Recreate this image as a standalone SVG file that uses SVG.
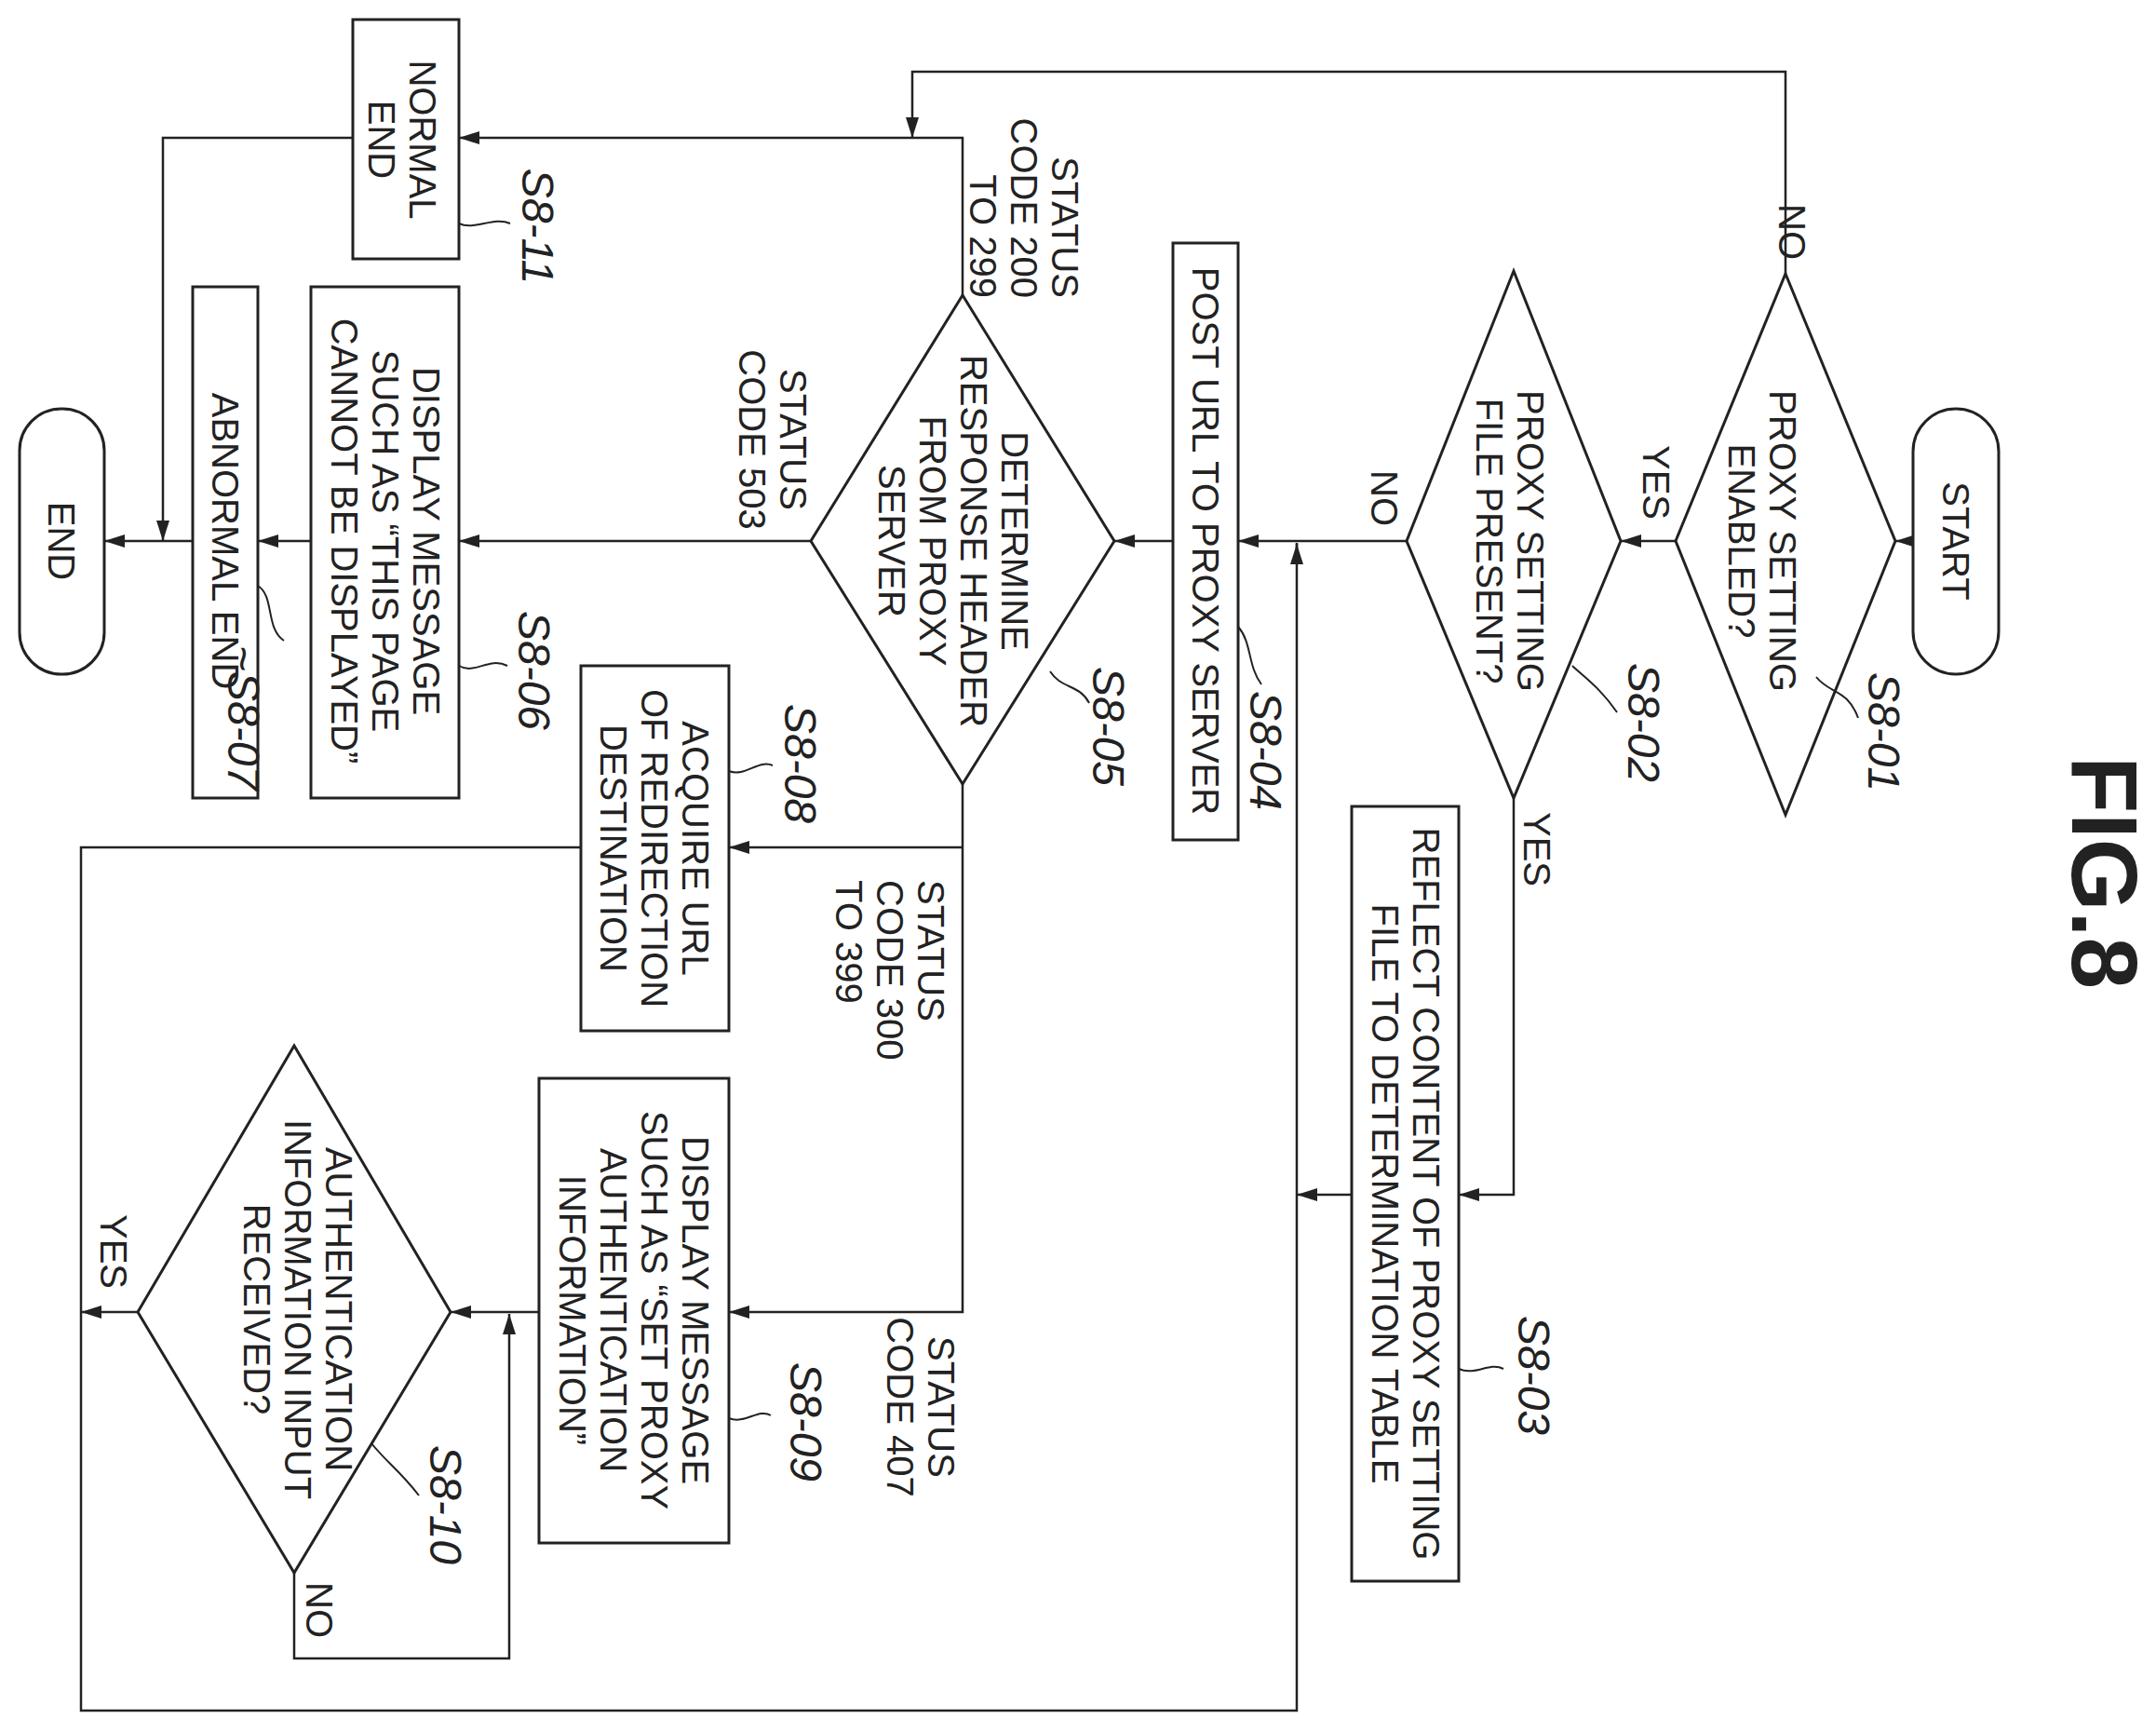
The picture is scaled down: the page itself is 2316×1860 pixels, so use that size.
<svg xmlns="http://www.w3.org/2000/svg" width="2316" height="1860" viewBox="0 0 2316 1860">
<style>
.s{fill:none;stroke:#222;stroke-width:2.5}
.n{fill:#fff;stroke:#222;stroke-width:3}
.t{font-family:"Liberation Sans",Arial,sans-serif;font-size:40px;fill:#222;text-anchor:middle}
.l{font-family:"Liberation Sans",Arial,sans-serif;font-size:48px;font-style:italic;fill:#222;text-anchor:middle}
.c{fill:none;stroke:#222;stroke-width:2}
</style>
<defs>
<marker id="a" markerUnits="userSpaceOnUse" markerWidth="24" markerHeight="16" refX="22" refY="8" orient="auto">
<path d="M0,1 L22,8 L0,15 Z" fill="#222"/>
</marker>
</defs>
<rect width="2316" height="1860" fill="#fff"/>
<text x="0" y="0" transform="translate(2262,937) rotate(90)" style="font-family:'Liberation Sans',Arial,sans-serif;font-size:100px;font-weight:bold;text-anchor:middle;fill:#222" dy="36">FIG.8</text>
<g id="connectors">
<path class="s" d="M2055 581 L2036 581" marker-end="url(#a)"/>
<path class="s" d="M1800 581 L1741 581" marker-end="url(#a)"/>
<path class="s" d="M1511 581 L1330 581" marker-end="url(#a)"/>
<path class="s" d="M1393 600 L1393 583"/>
<path class="s" d="M1260 581 L1197 581" marker-end="url(#a)"/>
<path class="s" d="M871 581 L493 581" marker-end="url(#a)"/>
<path class="s" d="M334 581 L277 581" marker-end="url(#a)"/>
<path class="s" d="M207 581 L112 581" marker-end="url(#a)"/>
<path class="s" d="M1918 294 L1918 77 L980 77 L980 148" marker-end="url(#a)"/>
<path class="s" d="M1034 317 L1034 148 L493 148" marker-end="url(#a)"/>
<path class="s" d="M379 148 L175 148 L175 581" marker-end="url(#a)"/>
<path class="s" d="M1626 857 L1626 1283 L1567 1283" marker-end="url(#a)"/>
<path class="s" d="M1452 1283 L1393 1283" marker-end="url(#a)"/>
<path class="s" d="M1034 842 L1034 1409 L783 1409" marker-end="url(#a)"/>
<path class="s" d="M1034 910 L783 910" marker-end="url(#a)"/>
<path class="s" d="M624 910 L87 910 L87 1837 L1393 1837 L1393 584" marker-end="url(#a)"/>
<path class="s" d="M579 1409 L484 1409" marker-end="url(#a)"/>
<path class="s" d="M148 1409 L87 1409" marker-end="url(#a)"/>
<path class="s" d="M316 1689 L316 1781 L547 1781 L547 1411" marker-end="url(#a)"/>
<text class="t" transform="translate(1925,249) rotate(90)" y="14">NO</text>
<text class="t" transform="translate(1779,518) rotate(90)" y="14">YES</text>
<text class="t" transform="translate(1487,535) rotate(90)" y="14">NO</text>
<text class="t" transform="translate(1651,912) rotate(90)" y="14">YES</text>
<text class="t" transform="translate(122,1344) rotate(90)" y="14">YES</text>
<text class="t" transform="translate(343,1729) rotate(90)" y="14">NO</text>
<text class="t" transform="translate(1100,320) rotate(90)" style="text-anchor:end"><tspan x="0" y="-30">STATUS</tspan><tspan x="0" y="14">CODE 200</tspan><tspan x="0" y="58">TO 299</tspan></text>
<text class="t" transform="translate(830,472) rotate(90)"><tspan x="0" y="-8">STATUS</tspan><tspan x="0" y="36">CODE 503</tspan></text>
<text class="t" transform="translate(956,945) rotate(90)" style="text-anchor:start"><tspan x="0" y="-30">STATUS</tspan><tspan x="0" y="14">CODE 300</tspan><tspan x="0" y="58">TO 399</tspan></text>
<text class="t" transform="translate(989,1511) rotate(90)"><tspan x="0" y="-8">STATUS</tspan><tspan x="0" y="36">CODE 407</tspan></text>
</g>
<g id="S8-START"><rect class="n" x="2055" y="439" width="92" height="285" rx="46"/><text class="t" transform="translate(2101,581) rotate(90)" y="14">START</text></g>
<g id="S8-01"><polygon class="n" points="1918,294 2036,581 1918,875 1800,581"/><text class="t" transform="translate(1893,581) rotate(90)"><tspan x="0" y="-8">PROXY SETTING</tspan><tspan x="0" y="36">ENABLED?</tspan></text>
<path class="c" d="M1951 727 C1965 745,1985 740,1996 771"/><text class="l" transform="translate(2024,786) rotate(90)" y="17">S8-01</text></g>
<g id="S8-02"><polygon class="n" points="1626,291 1741,581 1626,857 1511,581"/><text class="t" transform="translate(1622,581) rotate(90)"><tspan x="0" y="-8">PROXY SETTING</tspan><tspan x="0" y="36">FILE PRESENT?</tspan></text>
<path class="c" d="M1689 715 C1705 730,1720 740,1737 765"/><text class="l" transform="translate(1766,776) rotate(90)" y="17">S8-02</text></g>
<g id="S8-03"><rect class="n" x="1452" y="866" width="115" height="832"/><text class="t" transform="translate(1510,1282) rotate(90)"><tspan x="0" y="-8">REFLECT CONTENT OF PROXY SETTING</tspan><tspan x="0" y="36">FILE TO DETERMINATION TABLE</tspan></text>
<path class="c" d="M1567 1470 C1585 1478,1600 1462,1615 1470"/><text class="l" transform="translate(1648,1477) rotate(90)" y="17">S8-03</text></g>
<g id="S8-04"><rect class="n" x="1260" y="261" width="70" height="641"/><text class="t" transform="translate(1295,581) rotate(90)" y="14">POST URL TO PROXY SERVER</text>
<path class="c" d="M1330 673 C1345 690,1340 715,1355 735"/><text class="l" transform="translate(1360,806) rotate(90)" y="17">S8-04</text></g>
<g id="S8-05"><polygon class="n" points="1034,317 1197,581 1034,842 871,581"/><text class="t" transform="translate(1024,581) rotate(90)"><tspan x="0" y="-52">DETERMINE</tspan><tspan x="0" y="-8">RESPONSE HEADER</tspan><tspan x="0" y="36">FROM PROXY</tspan><tspan x="0" y="80">SERVER</tspan></text>
<path class="c" d="M1128 721 C1140 740,1160 735,1170 755"/><text class="l" transform="translate(1191,780) rotate(90)" y="17">S8-05</text></g>
<g id="S8-06"><rect class="n" x="334" y="308" width="159" height="549"/><text class="t" transform="translate(414,581) rotate(90)"><tspan x="0" y="-30">DISPLAY MESSAGE</tspan><tspan x="0" y="14">SUCH AS “THIS PAGE</tspan><tspan x="0" y="58">CANNOT BE DISPLAYED”</tspan></text>
<path class="c" d="M493 715 C510 725,525 705,545 715"/><text class="l" transform="translate(574,720) rotate(90)" y="17">S8-06</text></g>
<g id="S8-07"><rect class="n" x="207" y="308" width="70" height="549"/><text class="t" transform="translate(242,581) rotate(90)" y="14">ABNORMAL END</text>
<path class="c" d="M277 629 C295 640,285 675,305 688"/><text class="l" transform="translate(262,771) rotate(90)" y="17">~S8-07</text></g>
<g id="S8-08"><rect class="n" x="624" y="715" width="159" height="392"/><text class="t" transform="translate(703,911) rotate(90)"><tspan x="0" y="-30">ACQUIRE URL</tspan><tspan x="0" y="14">OF REDIRECTION</tspan><tspan x="0" y="58">DESTINATION</tspan></text>
<path class="c" d="M783 828 C800 835,815 815,830 822"/><text class="l" transform="translate(860,820) rotate(90)" y="17">S8-08</text></g>
<g id="S8-09"><rect class="n" x="579" y="1158" width="204" height="499"/><text class="t" transform="translate(681,1407) rotate(90)"><tspan x="0" y="-52">DISPLAY MESSAGE</tspan><tspan x="0" y="-8">SUCH AS “SET PROXY</tspan><tspan x="0" y="36">AUTHENTICATION</tspan><tspan x="0" y="80">INFORMATION”</tspan></text>
<path class="c" d="M783 1523 C800 1530,815 1512,828 1520"/><text class="l" transform="translate(866,1527) rotate(90)" y="17">S8-09</text></g>
<g id="S8-10"><polygon class="n" points="316,1123 484,1409 316,1689 148,1409"/><text class="t" transform="translate(320,1406) rotate(90)"><tspan x="0" y="-30">AUTHENTICATION</tspan><tspan x="0" y="14">INFORMATION INPUT</tspan><tspan x="0" y="58">RECEIVED?</tspan></text>
<path class="c" d="M399 1550 C415 1570,430 1580,450 1606"/><text class="l" transform="translate(479,1616) rotate(90)" y="17">S8-10</text></g>
<g id="S8-11"><rect class="n" x="379" y="21" width="114" height="257"/><text class="t" transform="translate(432,150) rotate(90)"><tspan x="0" y="-8">NORMAL</tspan><tspan x="0" y="36">END</tspan></text>
<path class="c" d="M493 240 C510 248,530 232,548 240"/><text class="l" transform="translate(578,243) rotate(90)" y="17">S8-11</text></g>
<g id="S8-END"><rect class="n" x="21" y="439" width="91" height="285" rx="45"/><text class="t" transform="translate(66,581) rotate(90)" y="14">END</text></g>
</svg>
